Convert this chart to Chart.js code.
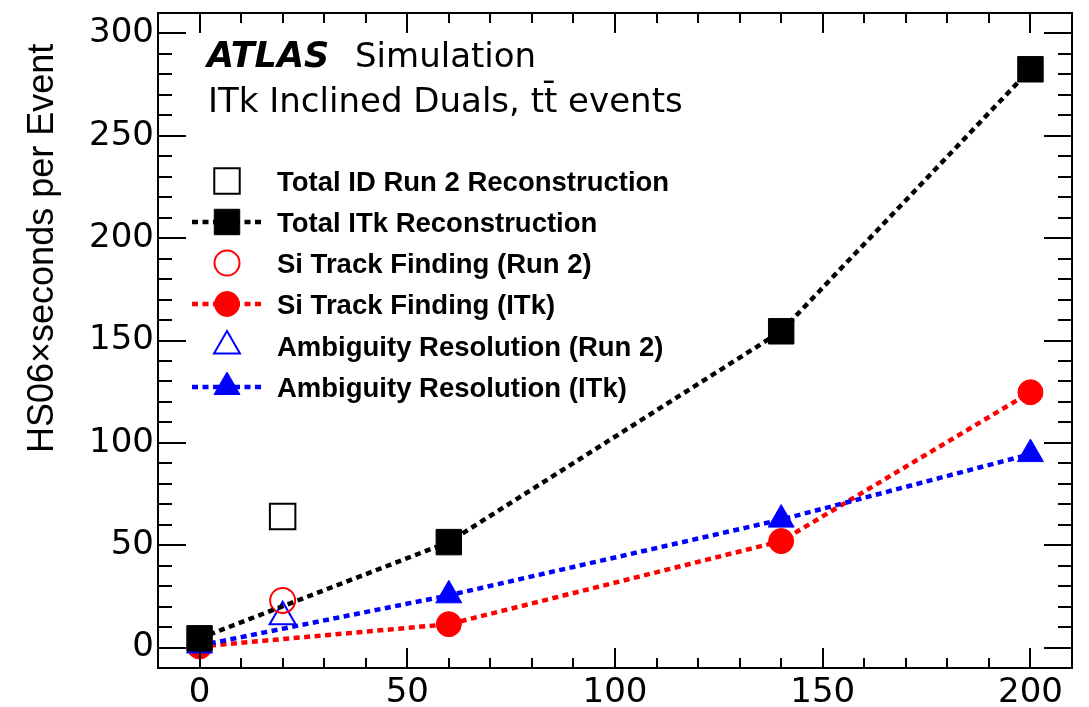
<!DOCTYPE html>
<html>
<head>
<meta charset="utf-8">
<script src="https://cdn.jsdelivr.net/npm/chart.js@4/dist/chart.umd.min.js"></script>
<style>
  html, body { margin: 0; padding: 0; background: #fff; }
</style>
</head>
<body>
<canvas id="chart" width="1089" height="707"></canvas>
<script>
// pile-up values (<mu>)
const pileup = [0, 60, 140, 200];
const run2Pileup = [20];

// HS06 x seconds per event
const totalItk = [4.5, 51.5, 154.5, 282.5];
const siItk = [0.5, 11.4, 52, 124.7];
const ambiItk = [1, 25.5, 62.5, 94.5];
const totalRun2 = [64];
const siRun2 = [23];
const ambiRun2 = [15];

const xTicks = [0, 50, 100, 150, 200];
const yTicks = [0, 50, 100, 150, 200, 250, 300];

const toPoints = (xs, ys) => xs.map((x, i) => ({ x: x, y: ys[i] }));

function openSeries(label, xs, ys, color, style, radius, order) {
  return {
    label: label,
    data: toPoints(xs, ys),
    showLine: false,
    pointStyle: style,
    pointRadius: radius,
    pointBackgroundColor: 'rgba(0,0,0,0)',
    pointBorderColor: color,
    pointBorderWidth: 2,
    order: order,
  };
}

function itkSeries(label, xs, ys, color, style, radius, order) {
  return {
    label: label,
    data: toPoints(xs, ys),
    showLine: true,
    borderColor: color,
    borderWidth: 4.5,
    borderDash: [6, 4.5],
    pointStyle: style,
    pointRadius: radius,
    pointBackgroundColor: color,
    pointBorderColor: color,
    pointBorderWidth: 1,
    order: order,
  };
}

const datasets = [
  openSeries('Total ID Run 2 Reconstruction', run2Pileup, totalRun2, '#000', 'rect', 18, 3),
  itkSeries('Total ITk Reconstruction', pileup, totalItk, '#000', 'rect', 18, 0),
  openSeries('Si Track Finding (Run 2)', run2Pileup, siRun2, '#ff0000', 'circle', 12.5, 4),
  itkSeries('Si Track Finding (ITk)', pileup, siItk, '#ff0000', 'circle', 12.5, 2),
  openSeries('Ambiguity Resolution (Run 2)', run2Pileup, ambiRun2, '#0000ff', 'triangle', 15, 5),
  itkSeries('Ambiguity Resolution (ITk)', pileup, ambiItk, '#0000ff', 'triangle', 15, 1),
];

const noPad = (s) => {
  s.paddingTop = 0;
  s.paddingBottom = 0;
  s.paddingLeft = 0;
  s.paddingRight = 0;
};

const framePlugin = {
  id: 'frame',
  afterDraw(chart) {
    const ctx = chart.ctx;
    const xs = chart.scales.x, ys = chart.scales.y;
    const { left, right, top, bottom } = chart.chartArea;

    ctx.save();
    ctx.strokeStyle = '#000';
    ctx.lineWidth = 2;
    ctx.strokeRect(left, top, right - left, bottom - top);

    // inward ticks on all four sides
    ctx.beginPath();
    for (let v = -10; v <= 210; v += 10) {
      const px = Math.round(xs.getPixelForValue(v));
      const len = v % 50 === 0 ? 20 : 10;
      ctx.moveTo(px, bottom); ctx.lineTo(px, bottom - len);
      ctx.moveTo(px, top); ctx.lineTo(px, top + len);
    }
    for (let v = -10; v <= 310; v += 10) {
      const py = Math.round(ys.getPixelForValue(v));
      const len = v % 50 === 0 ? 28 : 14;
      ctx.moveTo(left, py); ctx.lineTo(left + len, py);
      ctx.moveTo(right, py); ctx.lineTo(right - len, py);
    }
    ctx.stroke();

    // y axis title
    ctx.save();
    ctx.translate(53, 453);
    ctx.rotate(-Math.PI / 2);
    ctx.fillStyle = '#000';
    ctx.font = '36px "Liberation Sans"';
    ctx.textAlign = 'left';
    ctx.textBaseline = 'alphabetic';
    ctx.fillText('HS06\u00d7seconds per Event', 0, 0);
    ctx.restore();

    // labels
    ctx.fillStyle = '#000';
    ctx.textAlign = 'left';
    ctx.textBaseline = 'alphabetic';
    ctx.font = 'italic bold 35px "DejaVu Sans"';
    ctx.fillText('ATLAS', 207, 67);
    ctx.font = '34px "DejaVu Sans"';
    ctx.fillText('Simulation', 355, 67);
    ctx.fillText('ITk Inclined Duals, tt\u0304 events', 208, 112);

    // legend
    const rowY = [181, 222, 263, 304, 346, 387];
    ctx.font = 'bold 27.5px "Liberation Sans"';
    datasets.forEach((ds, i) => {
      const y = rowY[i];
      if (ds.showLine) {
        ctx.save();
        ctx.strokeStyle = ds.borderColor;
        ctx.lineWidth = ds.borderWidth;
        ctx.setLineDash(ds.borderDash);
        ctx.beginPath();
        ctx.moveTo(192, y);
        ctx.lineTo(262, y);
        ctx.stroke();
        ctx.restore();
      }
      ctx.save();
      ctx.fillStyle = ds.pointBackgroundColor;
      ctx.strokeStyle = ds.pointBorderColor;
      ctx.lineWidth = ds.pointBorderWidth;
      Chart.helpers.drawPoint(ctx, {
        pointStyle: ds.pointStyle,
        radius: ds.pointRadius,
        rotation: 0,
        borderWidth: ds.pointBorderWidth,
      }, 227, y);
      ctx.restore();
      ctx.fillStyle = '#000';
      ctx.fillText(ds.label, 277, y + 10);
    });
    ctx.restore();
  },
};

new Chart(document.getElementById('chart'), {
  type: 'scatter',
  data: { datasets: datasets },
  options: {
    responsive: false,
    animation: false,
    devicePixelRatio: 1,
    layout: {
      autoPadding: false,
      padding: { top: 13, right: 17, left: 0, bottom: 0 },
    },
    plugins: {
      legend: { display: false },
      tooltip: { enabled: false },
    },
    scales: {
      x: {
        type: 'linear',
        min: -10,
        max: 210,
        afterBuildTicks: (s) => { s.ticks = xTicks.map(v => ({ value: v })); },
        afterFit: (s) => { s.height = 39; noPad(s); },
        grid: { display: false, drawTicks: false },
        border: { display: false },
        ticks: {
          color: '#000',
          padding: 5,
          maxRotation: 0,
          font: { family: '"DejaVu Sans"', size: 34 },
        },
      },
      y: {
        type: 'linear',
        min: -10,
        max: 310,
        afterBuildTicks: (s) => { s.ticks = yTicks.map(v => ({ value: v })); },
        afterFit: (s) => { s.width = 158; noPad(s); },
        grid: { display: false, drawTicks: false },
        border: { display: false },
        ticks: {
          color: '#000',
          padding: 4,
          font: { family: '"DejaVu Sans"', size: 34 },
        },
      },
    },
  },
  plugins: [framePlugin],
});
</script>
</body>
</html>
